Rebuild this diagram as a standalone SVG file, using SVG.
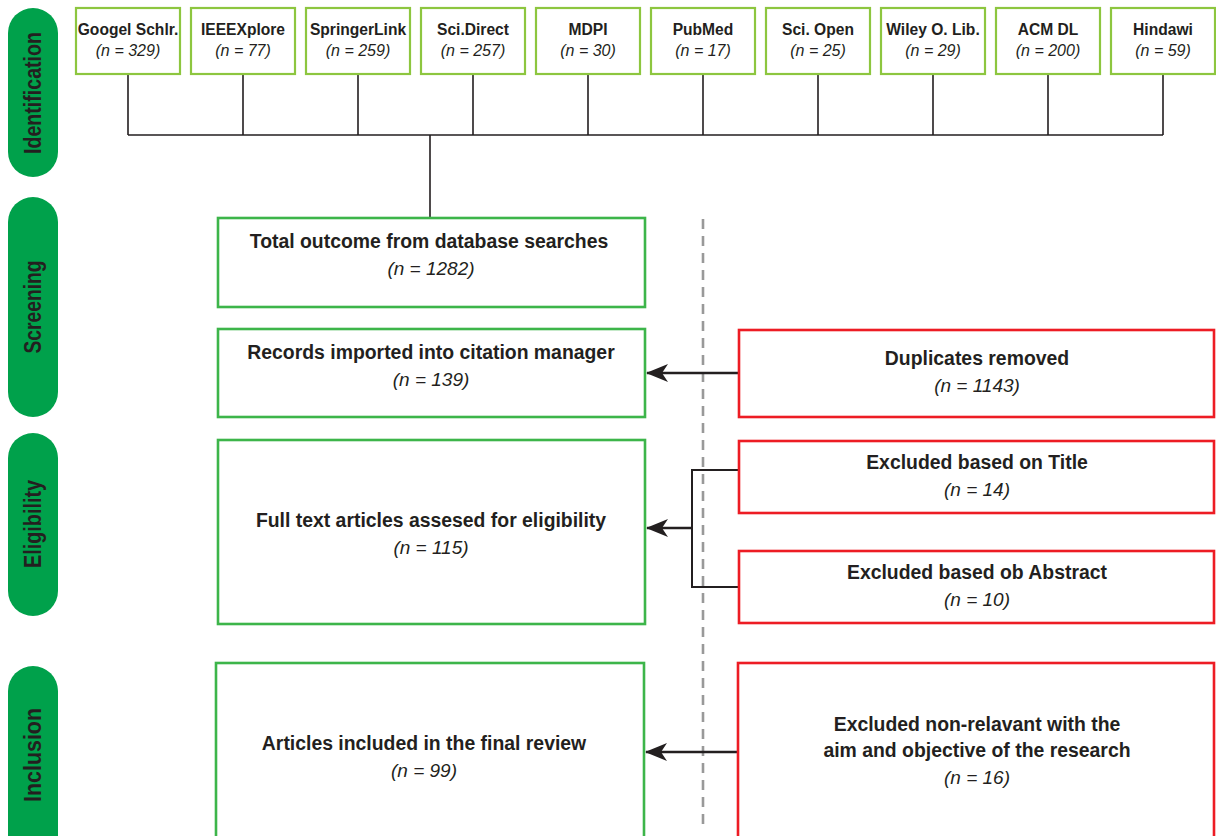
<svg xmlns="http://www.w3.org/2000/svg" width="1216" height="836" viewBox="0 0 1216 836">
<style>
.pill{fill:#00A14B}
.plab{font-family:"Liberation Sans",Arial,sans-serif;font-weight:bold;font-size:24px;fill:#231F20;text-anchor:middle}
.src{fill:#fff;stroke:#8DC63F;stroke-width:2.2}
.g{fill:#fff;stroke:#3DB54A;stroke-width:2.6}
.r{fill:#fff;stroke:#ED1C24;stroke-width:2.6}
.t1{font-family:"Liberation Sans",Arial,sans-serif;font-weight:bold;font-size:15.6px;fill:#231F20;text-anchor:middle}
.n1{font-family:"Liberation Sans",Arial,sans-serif;font-style:italic;font-size:16px;fill:#231F20;text-anchor:middle}
.t2{font-family:"Liberation Sans",Arial,sans-serif;font-weight:bold;font-size:19.4px;fill:#231F20;text-anchor:middle}
.n2{font-family:"Liberation Sans",Arial,sans-serif;font-style:italic;font-size:19px;fill:#231F20;text-anchor:middle}
.tree{fill:none;stroke:#231F20;stroke-width:1.6}
.arr{fill:none;stroke:#231F20;stroke-width:2.6;marker-end:url(#ah)}
.dash{fill:none;stroke:#999;stroke-width:2.6;stroke-dasharray:10 7}
</style>
<defs>
<marker id="ah" markerUnits="userSpaceOnUse" markerWidth="22" markerHeight="18" viewBox="0 0 22 18" refX="21" refY="9" orient="auto">
<path d="M0,0 L22,9 L0,18 L6,9 z" fill="#231F20"/>
</marker>
</defs>
<rect width="1216" height="836" fill="#fff"/>

<g id="phases">
<g id="phase-identification"><rect class="pill" x="8" y="8" width="50" height="169" rx="25"/><text class="plab" transform="translate(41,93) rotate(-90)" textLength="122" lengthAdjust="spacingAndGlyphs">Identification</text></g>
<g id="phase-screening"><rect class="pill" x="8" y="197" width="50" height="220" rx="25"/><text class="plab" transform="translate(41,307) rotate(-90)" textLength="93" lengthAdjust="spacingAndGlyphs">Screening</text></g>
<g id="phase-eligibility"><rect class="pill" x="8" y="433" width="50" height="183" rx="25"/><text class="plab" transform="translate(41,524) rotate(-90)" textLength="88" lengthAdjust="spacingAndGlyphs">Eligibility</text></g>
<g id="phase-inclusion"><rect class="pill" x="8" y="666" width="50" height="200" rx="25"/><text class="plab" transform="translate(41,755) rotate(-90)" textLength="94" lengthAdjust="spacingAndGlyphs">Inclusion</text></g>
</g>

<g id="connectors">
<path class="tree" d="M128,74V135 M243,74V135 M358,74V135 M473,74V135 M588,74V135 M703,74V135 M818,74V135 M933,74V135 M1048,74V135 M1163,74V135 M128,135H1163 M430,135V218"/>
<path class="dash" d="M703,219V828"/>
<path class="arr" d="M738,373H647"/>
<path class="tree" style="stroke-width:2" d="M738,470H692V587H738"/>
<path class="arr" d="M692,528H647"/>
<path class="arr" d="M738,752H646"/>
</g>

<g id="src-google"><rect class="src" x="76" y="8" width="104" height="66"/><text class="t1" x="128" y="35">Googel Schlr.</text><text class="n1" x="128" y="56">(n = 329)</text></g>
<g id="src-ieee"><rect class="src" x="191" y="8" width="104" height="66"/><text class="t1" x="243" y="35">IEEEXplore</text><text class="n1" x="243" y="56">(n = 77)</text></g>
<g id="src-springer"><rect class="src" x="306" y="8" width="104" height="66"/><text class="t1" x="358" y="35">SpringerLink</text><text class="n1" x="358" y="56">(n = 259)</text></g>
<g id="src-scidirect"><rect class="src" x="421" y="8" width="104" height="66"/><text class="t1" x="473" y="35">Sci.Direct</text><text class="n1" x="473" y="56">(n = 257)</text></g>
<g id="src-mdpi"><rect class="src" x="536" y="8" width="104" height="66"/><text class="t1" x="588" y="35">MDPI</text><text class="n1" x="588" y="56">(n = 30)</text></g>
<g id="src-pubmed"><rect class="src" x="651" y="8" width="104" height="66"/><text class="t1" x="703" y="35">PubMed</text><text class="n1" x="703" y="56">(n = 17)</text></g>
<g id="src-sciopen"><rect class="src" x="766" y="8" width="104" height="66"/><text class="t1" x="818" y="35">Sci. Open</text><text class="n1" x="818" y="56">(n = 25)</text></g>
<g id="src-wiley"><rect class="src" x="881" y="8" width="104" height="66"/><text class="t1" x="933" y="35">Wiley O. Lib.</text><text class="n1" x="933" y="56">(n = 29)</text></g>
<g id="src-acm"><rect class="src" x="996" y="8" width="104" height="66"/><text class="t1" x="1048" y="35">ACM DL</text><text class="n1" x="1048" y="56">(n = 200)</text></g>
<g id="src-hindawi"><rect class="src" x="1111" y="8" width="104" height="66"/><text class="t1" x="1163" y="35">Hindawi</text><text class="n1" x="1163" y="56">(n = 59)</text></g>

<g id="total"><rect class="g" x="218" y="218" width="427" height="89"/><text class="t2" x="429" y="248">Total outcome from database searches</text><text class="n2" x="431" y="275">(n = 1282)</text></g>
<g id="records"><rect class="g" x="218" y="329" width="427" height="88"/><text class="t2" x="431" y="359">Records imported into citation manager</text><text class="n2" x="431" y="386">(n = 139)</text></g>
<g id="fulltext"><rect class="g" x="218" y="440" width="427" height="184"/><text class="t2" x="431" y="527">Full text articles assesed for eligibility</text><text class="n2" x="431" y="554">(n = 115)</text></g>
<g id="included"><rect class="g" x="216" y="663" width="428" height="180"/><text class="t2" x="424" y="750">Articles included in the final review</text><text class="n2" x="424" y="777">(n = 99)</text></g>

<g id="duplicates"><rect class="r" x="739" y="330" width="475" height="87"/><text class="t2" x="977" y="365">Duplicates removed</text><text class="n2" x="977" y="392">(n = 1143)</text></g>
<g id="excl-title"><rect class="r" x="739" y="441" width="475" height="72"/><text class="t2" x="977" y="469">Excluded based on Title</text><text class="n2" x="977" y="496">(n = 14)</text></g>
<g id="excl-abstract"><rect class="r" x="739" y="551" width="475" height="72"/><text class="t2" x="977" y="579">Excluded based ob Abstract</text><text class="n2" x="977" y="606">(n = 10)</text></g>
<g id="excl-nonrelevant"><rect class="r" x="738" y="663" width="476" height="180"/><text class="t2" x="977" y="731">Excluded non-relavant with the</text><text class="t2" x="977" y="757">aim and objective of the research</text><text class="n2" x="977" y="784">(n = 16)</text></g>
</svg>
